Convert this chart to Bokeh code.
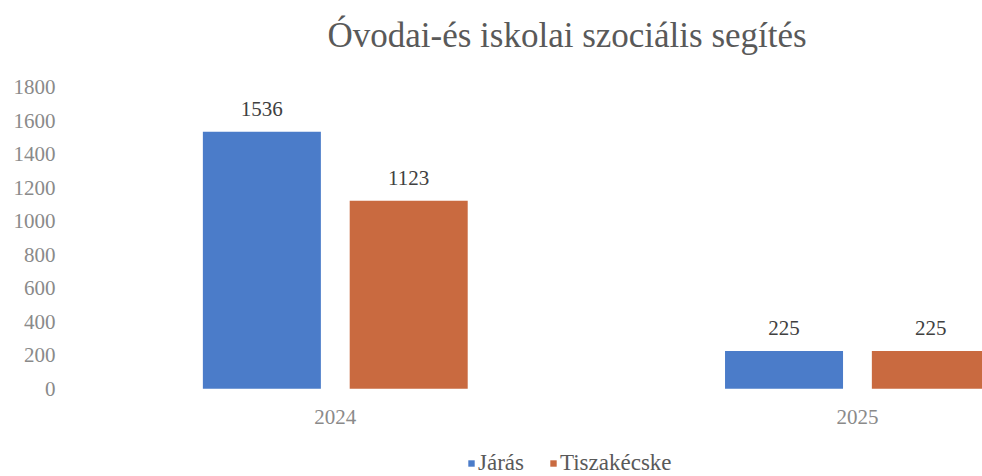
from bokeh.plotting import figure
from bokeh.models import ColumnDataSource, Range1d, FixedTicker, Legend, LegendItem, LabelSet
from bokeh.transform import dodge
from bokeh.embed import file_html
from bokeh.resources import INLINE

years = ["2024", "2025"]
jaras = [1536, 225]
tiszakecske = [1123, 225]
y_ticks = [0, 200, 400, 600, 800, 1000, 1200, 1400, 1600, 1800]

BLUE = "#4b7cc9"
ORANGE = "#c96a40"
FONT = "Liberation Serif"

src = ColumnDataSource(data=dict(
    x=list(range(len(years))),
    jaras=jaras,
    tisza=tiszakecske,
    jaras_lbl=[str(v) for v in jaras],
    tisza_lbl=[str(v) for v in tiszakecske],
))

p = figure(width=982, height=476, output_backend="svg", toolbar_location=None,
           x_range=Range1d(-0.5186, 1.2395), y_range=Range1d(-524.5, 1919.2),
           min_border_left=64, min_border_right=0, min_border_top=66, min_border_bottom=0)

p.outline_line_color = None
p.xgrid.grid_line_color = None
p.ygrid.grid_line_color = None

off = 0.1406
bw = 0.226
r1 = p.vbar(x=dodge("x", -off), top="jaras", bottom=0, width=bw, source=src, fill_color=BLUE, line_color=None)
r2 = p.vbar(x=dodge("x", off), top="tisza", bottom=0, width=bw, source=src, fill_color=ORANGE, line_color=None)

for fld, lbl, o in [("jaras", "jaras_lbl", -off), ("tisza", "tisza_lbl", off)]:
    ls = LabelSet(x=dodge("x", o), y=fld, text=lbl, source=src, y_offset=16,
                  text_align="center", text_baseline="alphabetic",
                  text_font=FONT, text_font_size="21px", text_color="#404040")
    p.add_layout(ls)

# axes
p.xaxis.fixed_location = 0
p.xaxis.ticker = FixedTicker(ticks=list(range(len(years))))
p.xaxis.major_label_overrides = {i: y for i, y in enumerate(years)}
p.yaxis.ticker = FixedTicker(ticks=y_ticks)
for ax in (p.xaxis[0], p.yaxis[0]):
    ax.axis_line_color = None
    ax.major_tick_line_color = None
    ax.minor_tick_line_color = None
    ax.major_tick_out = 0
    ax.major_tick_in = 0
    ax.major_label_text_font = FONT
    ax.major_label_text_font_size = "21px"
    ax.major_label_text_color = "#8a8a8a"
p.xaxis.major_label_standoff = 21
p.yaxis.major_label_standoff = 9

# title
p.title.text = "Óvodai-és iskolai szociális segítés"
p.title.text_font = FONT
p.title.text_font_size = "35px"
p.title.text_font_style = "normal"
p.title.text_color = "#595959"
p.title.align = "left"
p.title.offset = 263
p.title.standoff = 26

legend = Legend(items=[LegendItem(label="Járás", renderers=[r1]),
                       LegendItem(label="Tiszakécske", renderers=[r2])],
                orientation="horizontal", location=(403, 0),
                border_line_color=None, background_fill_alpha=0,
                padding=0, margin=0, glyph_width=8, glyph_height=8,
                label_standoff=3, spacing=25,
                label_text_font=FONT, label_text_font_size="23px",
                label_text_color="#595959")
p.add_layout(legend, "center")

open("out.html", "w").write(file_html(p, INLINE))
